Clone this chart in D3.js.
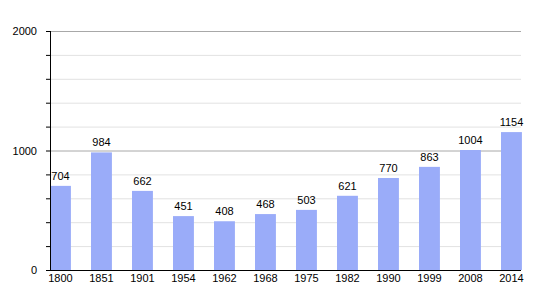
<!DOCTYPE html>
<html>
<head>
<meta charset="utf-8">
<script src="https://cdn.jsdelivr.net/npm/d3@7"></script>
<style>
  body { margin: 0; background: #fff; }
  text { font-family: "Liberation Sans", Arial, sans-serif; font-size: 11px; fill: #000; }
</style>
</head>
<body>
<svg id="chart" width="550" height="300"></svg>
<script>
const years = ["1800", "1851", "1901", "1954", "1962", "1968", "1975", "1982", "1990", "1999", "2008", "2014"];
const population = [704, 984, 662, 451, 408, 468, 503, 621, 770, 863, 1004, 1154];
const majorTicks = [0, 1000, 2000];
const minorTicks = [200, 400, 600, 800, 1200, 1400, 1600, 1800];

const svg = d3.select("#chart");
const mLeft = 50, mRight = 521, mTop = 31, mBottom = 270;

const x = d3.scaleBand()
  .domain(years)
  .range([mLeft, mLeft + 12 * 41])
  .paddingInner(0.49)
  .paddingOuter(0.245)
  .align(0);

const y = d3.scaleLinear().domain([0, 2000]).range([mBottom, mTop]);

// grille
svg.append("g").selectAll("line")
  .data(minorTicks)
  .join("line")
    .attr("x1", mLeft).attr("x2", mRight)
    .attr("y1", d => y(d) + 0.5).attr("y2", d => y(d) + 0.5)
    .attr("stroke", "#e2e2e2");

svg.append("g").selectAll("line")
  .data(majorTicks.slice(1))
  .join("line")
    .attr("x1", mLeft).attr("x2", mRight)
    .attr("y1", d => y(d) + 0.5).attr("y2", d => y(d) + 0.5)
    .attr("stroke", "#a8a8a8");

// barres
svg.append("g").selectAll("rect")
  .data(population)
  .join("rect")
    .attr("x", (d, i) => x(years[i]))
    .attr("y", d => y(d))
    .attr("width", x.bandwidth())
    .attr("height", d => mBottom - y(d))
    .attr("fill", "#9aacf9");

svg.append("g").selectAll("text")
  .data(population)
  .join("text")
    .attr("x", (d, i) => x(years[i]) + x.bandwidth() / 2)
    .attr("y", d => y(d) - 6)
    .attr("text-anchor", "middle")
    .text(d => d);

// axes
svg.append("g").selectAll("line")
  .data(majorTicks.concat(minorTicks))
  .join("line")
    .attr("x1", mLeft - 4).attr("x2", mLeft)
    .attr("y1", d => y(d) + 0.5).attr("y2", d => y(d) + 0.5)
    .attr("stroke", "#000");

svg.append("g").selectAll("text")
  .data(majorTicks)
  .join("text")
    .attr("x", 37)
    .attr("y", d => y(d) + 4)
    .attr("text-anchor", "end")
    .text(d => d);

svg.append("line")
  .attr("x1", mLeft + 0.5).attr("x2", mLeft + 0.5)
  .attr("y1", mTop).attr("y2", mBottom + 1)
  .attr("stroke", "#000");

svg.append("line")
  .attr("x1", mLeft).attr("x2", mRight)
  .attr("y1", mBottom + 0.5).attr("y2", mBottom + 0.5)
  .attr("stroke", "#000");

svg.append("g").selectAll("text")
  .data(years)
  .join("text")
    .attr("x", d => x(d) + x.bandwidth() / 2)
    .attr("y", 282)
    .attr("text-anchor", "middle")
    .text(d => d);
</script>
</body>
</html>
